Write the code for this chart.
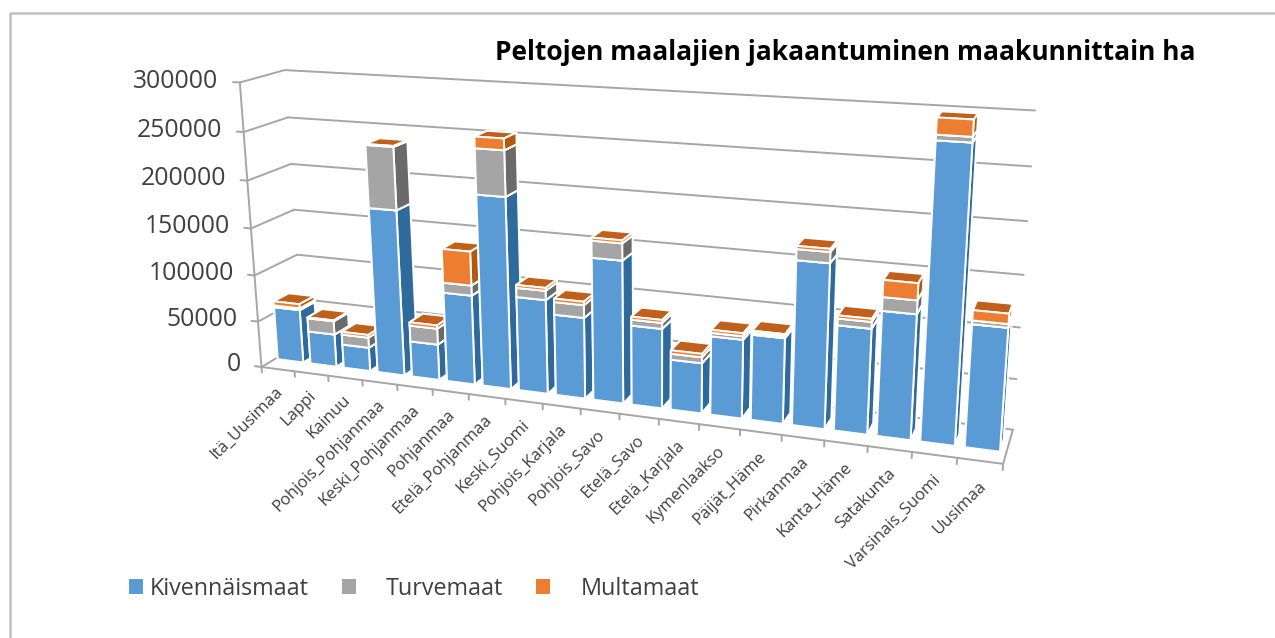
import numpy as np, pandas as pd, matplotlib
matplotlib.use('Agg')
import matplotlib.pyplot as plt, seaborn as sns
from matplotlib.lines import Line2D
from matplotlib.patches import Patch
from mpl_toolkits.mplot3d import proj3d

regions = ["Itä_Uusimaa","Lappi","Kainuu","Pohjois_Pohjanmaa","Keski_Pohjanmaa","Pohjanmaa",
           "Etelä_Pohjanmaa","Keski_Suomi","Pohjois_Karjala","Pohjois_Savo","Etelä_Savo","Etelä_Karjala",
           "Kymenlaakso","Päijät_Häme","Pirkanmaa","Kanta_Häme","Satakunta","Varsinais_Suomi","Uusimaa"]
kivennais = [58000,35500,25500,175000,38000,94000,198000,97500,83500,145000,81000,51000,79000,85000,161000,103000,121000,279500,117000]
turve     = [2000,14500,11000,64500,17000,10500,46000,9500,13000,17000,6000,6000,3500,2000,10500,6500,13000,5000,3500]
multa     = [4500,1000,3000,1000,3500,35000,11500,3000,3500,3000,3000,3500,3000,2000,3000,3000,16000,15000,9500]
series_names = ["Kivennäismaat","Turvemaat","Multamaat"]
z_ticks = [0,50000,100000,150000,200000,250000,300000]

sns.set_theme(style="white")
plt.rcParams['font.family'] = ['Open Sans','DejaVu Sans']
palette = sns.color_palette(["#5B9BD5","#A5A5A5","#ED7D31"])
side = sns.color_palette(["#2F6A9C","#6A6A6A","#B3590F"])
top  = sns.color_palette(["#4A84BA","#8A8A8A","#C0601A"])
GRID = "#A6A6A6"; TXT = "#404040"

W,H = 1275,638
fig = plt.figure(figsize=(W/100,H/100),dpi=100)
L = 827.5
ax = fig.add_axes([188.5/W,-37.2/H,L/W,L/H],projection='3d',computed_zorder=False)
ax.set_xlim(0,len(regions)); ax.set_ylim(0,1); ax.set_zlim(0,z_ticks[-1])
ax.view_init(elev=15.786,azim=-69.743,roll=0.467)
ax.set_proj_type('persp',focal_length=0.336)
ax.set_box_aspect((11.357,1.2315,4.5))
ax.set_axis_off()
n = len(regions)
zt = z_ticks[-1]
line = dict(color=GRID,lw=1.4,zorder=1,clip_on=False)
M = ax.get_proj()
def text2d(x,y,z,s,**kw):
    px,py,_ = proj3d.proj_transform(x,y,z,M)
    return ax.text2D(px,py,s,transform=ax.transData,clip_on=False,zorder=5,**kw)
for z in z_ticks:
    ax.plot([0,n],[1,1],[z,z],**line)
    ax.plot([0,0],[0,1],[z,z],**line)
    ax.plot([-0.2,0],[0,0],[z,z],**line)
    text2d(-0.62,0,z,f"{z}",ha='right',va='center',fontsize=17.8,color=TXT)
ax.plot([0,0],[0,0],[0,zt],**line)
ax.plot([0,n,n],[0,0,1],[0,0,0],**line)
for i in range(n+1):
    ax.plot([i,i],[0,0],[0,-6000],**line)

df = pd.DataFrame({"a":kivennais,"b":turve,"c":multa},index=regions)
zo = 10
for i,(name,row) in enumerate(df.iterrows()):
    bottom = 0
    for j,v in enumerate(row.values):
        # faces: -Z,+Z,-Y,+Y,-X,+X
        cols = [top[j],top[j],palette[j],palette[j],side[j],side[j]]
        ax.bar3d(i+0.08,0.32,bottom,0.78,0.36,v,color=cols,shade=False,edgecolor="white",linewidth=1.4,zorder=zo,clip_on=False)
        bottom += v; zo += 1

for i,name in enumerate(regions):
    text2d(i+0.5,-0.1,-13000,name,rotation=45,ha='right',va='top',rotation_mode='anchor',fontsize=12,color=TXT)

fig.text(495/W,1-52/H,"Peltojen maalajien jakaantuminen maakunnittain ha",fontsize=19,fontweight='bold',color='black',va='center',ha='left')

fig.add_artist(Line2D([10/W,10/W,1],[0,1-13/H,1-13/H],color="#BFBFBF",lw=1.8))

for name,col,x,pad in zip(series_names,palette,[129,342,536],[0.27,1.25,1.28]):
    fig.legend(handles=[Patch(facecolor=col,edgecolor='none')],labels=[name],loc='center left',
               bbox_to_anchor=(x/W,1-589/H),frameon=False,borderpad=0,borderaxespad=0,
               handlelength=0.62,handleheight=0.62,handletextpad=pad,fontsize=16.8,labelcolor=TXT)
fig.savefig("out.png",dpi=100)
